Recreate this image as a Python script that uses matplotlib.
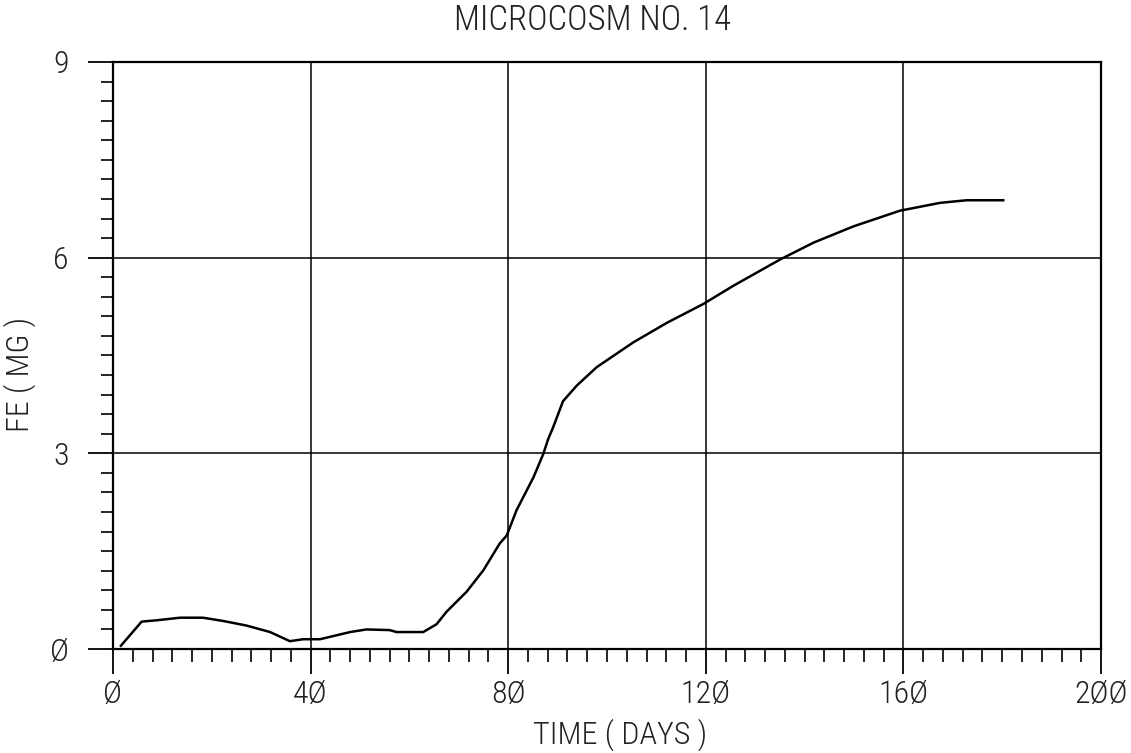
import numpy as np
import matplotlib
matplotlib.use('Agg')
import matplotlib.pyplot as plt
from matplotlib.ticker import MultipleLocator
from matplotlib import font_manager

# values
days = [1.6, 5.8, 8.8, 13.6, 18.2, 22.3, 27, 31.8, 35.8, 38.5, 41.9, 48, 51.3,
        56, 57.4, 62.8, 65.5, 67.5, 71.6, 75, 78.3, 79.7, 81.7, 85.1, 87.1,
        88.1, 89.1, 91.1, 93.9, 97.9, 105.3, 112.1, 119.5, 125.6, 135, 141.8,
        149.9, 159.3, 167.4, 172.8, 180.2]
fe_mg = [0.05, 0.42, 0.44, 0.48, 0.48, 0.43, 0.36, 0.26, 0.12, 0.15, 0.15,
         0.26, 0.30, 0.29, 0.26, 0.26, 0.38, 0.57, 0.88, 1.21, 1.62, 1.74,
         2.13, 2.63, 2.99, 3.22, 3.40, 3.80, 4.04, 4.32, 4.70, 5.00, 5.29,
         5.57, 5.97, 6.23, 6.48, 6.72, 6.84, 6.88, 6.88]

x_ticks = [0, 40, 80, 120, 160, 200]
x_labels = ['Ø', '4Ø', '8Ø', '12Ø', '16Ø', '2ØØ']
y_ticks = [0, 3, 6, 9]
y_labels = ['Ø', '3', '6', '9']

names = {f.name for f in font_manager.fontManager.ttflist}
font = [n for n in ['Liberation Sans Narrow', 'Roboto Condensed', 'Roboto', 'DejaVu Sans'] if n in names]
txt = dict(fontfamily=font, fontsize=23, color='#222222', fontweight='light')

fig = plt.figure(figsize=(11.31, 7.53), dpi=100)
ax = fig.add_axes([0.0999, 0.1381, 0.8736, 0.7796])

ax.plot(days, fe_mg, color='black', linewidth=1.8)

ax.set_xlim(0, 200)
ax.set_ylim(0, 9)

ax.set_xticks(x_ticks)
ax.set_xticklabels(x_labels, **txt)
ax.set_yticks(y_ticks)
ax.set_yticklabels(y_labels, **txt)
ax.xaxis.set_minor_locator(MultipleLocator(4))
ax.yaxis.set_minor_locator(MultipleLocator(0.3))

ax.tick_params(which='major', length=18, width=1.3, color='black', direction='out')
ax.tick_params(axis='x', which='major', pad=4)
ax.tick_params(axis='y', which='major', pad=14)
ax.tick_params(which='minor', length=9, width=1.2, color='black', direction='out')

for s in ax.spines.values():
    s.set_color('black')
    s.set_linewidth(1.6)

ax.grid(True, which='major', color='black', linewidth=1.1)

ax.set_title('MICROCOSM NO. 14', x=0.485, pad=23, fontfamily=font, fontsize=25,
             color='#222222', fontweight='light')
ax.set_xlabel('TIME ( DAYS )', **txt)
ax.xaxis.set_label_coords(0.513, -0.118)
ax.set_ylabel('FE ( MG )', **txt)
ax.yaxis.set_label_coords(-0.078, 0.467)

fig.savefig('out.png', dpi=100, facecolor='white')
